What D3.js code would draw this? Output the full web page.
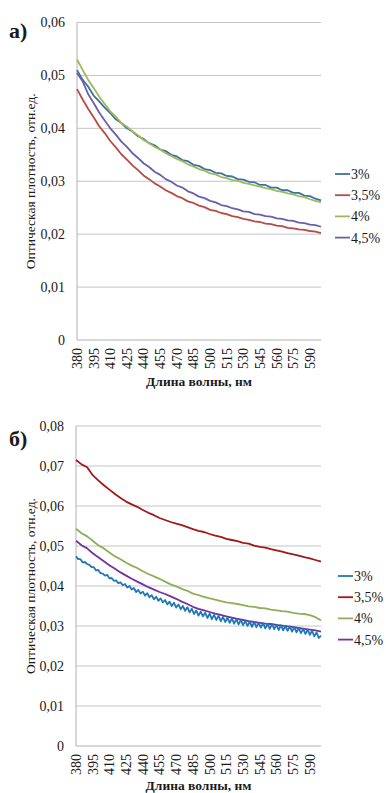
<!DOCTYPE html>
<html>
<head>
<meta charset="utf-8">
<script src="https://cdn.jsdelivr.net/npm/d3@7"></script>
<style>
   body { margin: 0; background: #fff; }
</style>
</head>
<body>
<div id="chart"></div>
<script>
// wavelength ticks shown on both x axes
var xTicks = [380, 395, 410, 425, 440, 455, 470, 485, 500, 515, 530, 545, 560, 575, 590]
var seriesNames = ["3%", "3,5%", "4%", "4,5%"]

// samples every 5 nm from 380 to 600
var wl5 = [380, 385, 390, 395, 400, 405, 410, 415, 420, 425, 430, 435, 440, 445, 450, 455, 460, 465, 470, 475,
   480, 485, 490, 495, 500, 505, 510, 515, 520, 525, 530, 535, 540, 545, 550, 555, 560, 565, 570, 575,
   580, 585, 590, 595, 600]

// chart a)
var a3 = [0.0510, 0.0492, 0.0479, 0.0462, 0.0451, 0.0439, 0.0429, 0.0417, 0.0410, 0.0400, 0.0394, 0.0385, 0.0380, 0.0372, 0.0368, 0.0360, 0.0357, 0.0350, 0.0347, 0.0340,
   0.0338, 0.0331, 0.0329, 0.0323, 0.0321, 0.0316, 0.0315, 0.0310, 0.0309, 0.0304, 0.0303, 0.0299, 0.0298, 0.0293, 0.0293, 0.0288, 0.0288, 0.0283, 0.0283, 0.0278,
   0.0278, 0.0273, 0.0272, 0.0267, 0.0264]
var a35 = [0.0474, 0.0455, 0.0437, 0.0421, 0.0404, 0.0391, 0.0376, 0.0364, 0.0351, 0.0341, 0.0330, 0.0321, 0.0311, 0.0304, 0.0296, 0.0290, 0.0283, 0.0278, 0.0272, 0.0268,
   0.0262, 0.0259, 0.0254, 0.0251, 0.0246, 0.0244, 0.0240, 0.0238, 0.0234, 0.0232, 0.0229, 0.0227, 0.0224, 0.0223, 0.0220, 0.0219, 0.0216, 0.0215, 0.0212, 0.0211,
   0.0209, 0.0208, 0.0206, 0.0205, 0.0202]
var a4 = [0.0530, 0.0511, 0.0492, 0.0476, 0.0460, 0.0446, 0.0432, 0.0422, 0.0410, 0.0403, 0.0394, 0.0387, 0.0378, 0.0372, 0.0365, 0.0360, 0.0353, 0.0348, 0.0342, 0.0338,
   0.0332, 0.0328, 0.0323, 0.0320, 0.0315, 0.0313, 0.0308, 0.0306, 0.0302, 0.0301, 0.0297, 0.0295, 0.0292, 0.0290, 0.0287, 0.0285, 0.0282, 0.0280, 0.0277, 0.0275,
   0.0272, 0.0270, 0.0266, 0.0263, 0.0260]
var a45 = [0.0505, 0.0489, 0.0465, 0.0448, 0.0430, 0.0415, 0.0400, 0.0388, 0.0375, 0.0365, 0.0353, 0.0344, 0.0334, 0.0327, 0.0318, 0.0312, 0.0304, 0.0299, 0.0292, 0.0288,
   0.0281, 0.0277, 0.0271, 0.0268, 0.0263, 0.0260, 0.0255, 0.0253, 0.0249, 0.0247, 0.0243, 0.0242, 0.0238, 0.0237, 0.0234, 0.0233, 0.0230, 0.0229, 0.0226, 0.0225,
   0.0222, 0.0221, 0.0218, 0.0217, 0.0214]

// chart б)
var b35 = [0.0715, 0.0704, 0.0697, 0.0677, 0.0664, 0.0652, 0.0641, 0.0630, 0.0620, 0.0611, 0.0604, 0.0598, 0.0590, 0.0583, 0.0577, 0.0570, 0.0565, 0.0560, 0.0556, 0.0552,
   0.0547, 0.0542, 0.0538, 0.0535, 0.0530, 0.0526, 0.0523, 0.0518, 0.0515, 0.0512, 0.0508, 0.0506, 0.0501, 0.0498, 0.0496, 0.0492, 0.0489, 0.0486, 0.0482, 0.0479,
   0.0476, 0.0472, 0.0469, 0.0465, 0.0461]
var b4 = [0.0543, 0.0532, 0.0524, 0.0513, 0.0502, 0.0494, 0.0484, 0.0474, 0.0467, 0.0458, 0.0451, 0.0445, 0.0437, 0.0430, 0.0424, 0.0418, 0.0411, 0.0404, 0.0399, 0.0393,
   0.0388, 0.0381, 0.0377, 0.0373, 0.0369, 0.0366, 0.0362, 0.0359, 0.0357, 0.0355, 0.0352, 0.0349, 0.0348, 0.0345, 0.0344, 0.0341, 0.0339, 0.0337, 0.0336, 0.0333,
   0.0331, 0.0330, 0.0327, 0.0322, 0.0314]
var b45 = [0.0513, 0.0502, 0.0494, 0.0482, 0.0472, 0.0462, 0.0452, 0.0443, 0.0434, 0.0426, 0.0418, 0.0411, 0.0404, 0.0397, 0.0391, 0.0385, 0.0380, 0.0374, 0.0368, 0.0361,
   0.0355, 0.0348, 0.0343, 0.0339, 0.0335, 0.0331, 0.0328, 0.0324, 0.0321, 0.0318, 0.0315, 0.0312, 0.0310, 0.0308, 0.0306, 0.0305, 0.0303, 0.0301, 0.0299, 0.0297,
   0.0295, 0.0293, 0.0291, 0.0289, 0.0286]

// the 3% curve of б) is read every 2 nm, it zigzags
var wl2 = d3.range(380, 601, 2)
var b3 = [0.0474, 0.0467, 0.0467, 0.0459, 0.0460, 0.0455, 0.0453, 0.0447, 0.0447, 0.0439,
   0.0440, 0.0432, 0.0431, 0.0426, 0.0428, 0.0419, 0.0420, 0.0413, 0.0414, 0.0407,
   0.0409, 0.0402, 0.0405, 0.0396, 0.0400, 0.0391, 0.0395, 0.0385, 0.0390, 0.0381,
   0.0386, 0.0376, 0.0382, 0.0372, 0.0377, 0.0367, 0.0373, 0.0363, 0.0369, 0.0359,
   0.0365, 0.0354, 0.0361, 0.0350, 0.0358, 0.0346, 0.0354, 0.0342, 0.0350, 0.0338,
   0.0347, 0.0334, 0.0343, 0.0330, 0.0339, 0.0326, 0.0336, 0.0324, 0.0333, 0.0320,
   0.0331, 0.0317, 0.0328, 0.0315, 0.0326, 0.0312, 0.0323, 0.0310, 0.0321, 0.0308,
   0.0319, 0.0306, 0.0317, 0.0304, 0.0315, 0.0302, 0.0313, 0.0300, 0.0311, 0.0298,
   0.0310, 0.0297, 0.0308, 0.0296, 0.0307, 0.0294, 0.0306, 0.0293, 0.0304, 0.0292,
   0.0303, 0.0290, 0.0302, 0.0289, 0.0300, 0.0288, 0.0299, 0.0286, 0.0297, 0.0284,
   0.0295, 0.0282, 0.0293, 0.0280, 0.0291, 0.0278, 0.0288, 0.0274, 0.0284, 0.0270,
   0.0276]

var width = 386
var height = 793
var fontFamily = "'Liberation Serif', 'Times New Roman', serif"

var svg = d3.select("#chart").append("svg")
   .attr("width", width)
   .attr("height", height)
   .style("font-family", fontFamily)

function drawChart(cfg) {
   let g = svg.append("g")
      .attr("fill", "#1a1a1a")

   let x = d3.scaleLinear().domain([380, 600]).range([cfg.left, cfg.right])
   let y = d3.scaleLinear().domain([0, cfg.yMax]).range([cfg.bottom, cfg.top])

   // gridlines
   g.selectAll("line.grid").data(cfg.yTicks.slice(1)).enter().append("line")
      .attr("class", "grid")
      .attr("x1", cfg.left)
      .attr("x2", cfg.right)
      .attr("y1", function(d) { return y(d) })
      .attr("y2", function(d) { return y(d) })
      .attr("stroke", "#c4c4c4")
      .attr("stroke-width", 1)

   // axis lines
   g.append("line")
      .attr("x1", cfg.left).attr("x2", cfg.left)
      .attr("y1", y(cfg.yMax)).attr("y2", y(0))
      .attr("stroke", "#b0b0b0")
   g.append("line")
      .attr("x1", cfg.left).attr("x2", cfg.right)
      .attr("y1", y(0)).attr("y2", y(0))
      .attr("stroke", "#b0b0b0")

   // y tick labels
   g.selectAll("text.ytick").data(cfg.yTicks).enter().append("text")
      .attr("class", "ytick")
      .attr("x", cfg.left - 12)
      .attr("y", function(d) { return y(d) })
      .attr("dy", "0.35em")
      .attr("text-anchor", "end")
      .style("font-size", "14px")
      .text(function(d) { return d == 0 ? "0" : d.toFixed(2).replace(".", ",") })

   // x tick labels, rotated
   g.selectAll("text.xtick").data(xTicks).enter().append("text")
      .attr("class", "xtick")
      .attr("transform", function(d) { return "translate(" + x(d) + "," + (y(0) + 8) + ") rotate(-90)" })
      .attr("dy", "0.35em")
      .attr("text-anchor", "end")
      .style("font-size", "14px")
      .text(function(d) { return d })

   // axis titles
   g.append("text")
      .attr("x", (cfg.left + cfg.right) / 2)
      .attr("y", cfg.xTitleY)
      .attr("text-anchor", "middle")
      .style("font-size", "13.5px")
      .style("font-weight", "bold")
      .text("Длина волны, нм")

   g.append("text")
      .attr("transform", "translate(30," + (cfg.top + cfg.bottom) / 2 + ") rotate(-90)")
      .attr("dy", "0.35em")
      .attr("text-anchor", "middle")
      .style("font-size", "13.5px")
      .text("Оптическая плотность, отн.ед.")

   // panel letter
   g.append("text")
      .attr("x", 9)
      .attr("y", cfg.letterY)
      .style("font-size", "22px")
      .style("font-weight", "bold")
      .text(cfg.letter)

   // curves
   let line = d3.line()
      .x(function(d) { return x(d[0]) })
      .y(function(d) { return y(d[1]) })

   cfg.series.forEach(function(s) {
      g.append("path")
         .datum(d3.zip(s.wl, s.values))
         .attr("fill", "none")
         .attr("stroke", s.color)
         .attr("stroke-width", 1.8)
         .attr("stroke-linejoin", "round")
         .attr("d", line)
   })

   // legend, always in series order 3%, 3,5%, 4%, 4,5%
   let leg = g.selectAll("g.legend").data(cfg.legend).enter().append("g")
      .attr("class", "legend")
      .attr("transform", function(d, i) { return "translate(" + cfg.legendX + "," + (cfg.legendY + i * 21.2) + ")" })

   leg.append("line")
      .attr("x1", 0).attr("x2", 15)
      .attr("stroke", function(d) { return d.color })
      .attr("stroke-width", 1.8)
   leg.append("text")
      .attr("x", 16)
      .attr("dy", "0.35em")
      .style("font-size", "14px")
      .text(function(d) { return d.name })
}

var colorsA = ["#3f6f9f", "#b84a44", "#9bbb59", "#6b5ea8"]
var seriesA = [
   { name: seriesNames[0], wl: wl5, values: a3, color: colorsA[0] },
   { name: seriesNames[1], wl: wl5, values: a35, color: colorsA[1] },
   { name: seriesNames[3], wl: wl5, values: a45, color: colorsA[3] },
   { name: seriesNames[2], wl: wl5, values: a4, color: colorsA[2] }
]

drawChart({
   letter: "а)", letterY: 38,
   left: 77, right: 321, top: 22.5, bottom: 340,
   yMax: 0.06, yTicks: [0, 0.01, 0.02, 0.03, 0.04, 0.05, 0.06],
   xTitleY: 386,
   series: seriesA,
   legend: [seriesA[0], seriesA[1], seriesA[3], seriesA[2]],
   legendX: 335, legendY: 174
})

var colorsB = ["#1f78b8", "#a01818", "#8fae5a", "#7233a0"]
var seriesB = [
   { name: seriesNames[1], wl: wl5, values: b35, color: colorsB[1] },
   { name: seriesNames[2], wl: wl5, values: b4, color: colorsB[2] },
   { name: seriesNames[3], wl: wl5, values: b45, color: colorsB[3] },
   { name: seriesNames[0], wl: wl2, values: b3, color: colorsB[0] }
]

drawChart({
   letter: "б)", letterY: 446,
   left: 76, right: 321, top: 426, bottom: 746,
   yMax: 0.08, yTicks: [0, 0.01, 0.02, 0.03, 0.04, 0.05, 0.06, 0.07, 0.08],
   xTitleY: 790,
   series: seriesB,
   legend: [seriesB[3], seriesB[0], seriesB[1], seriesB[2]],
   legendX: 338, legendY: 576
})
</script>
</body>
</html>
